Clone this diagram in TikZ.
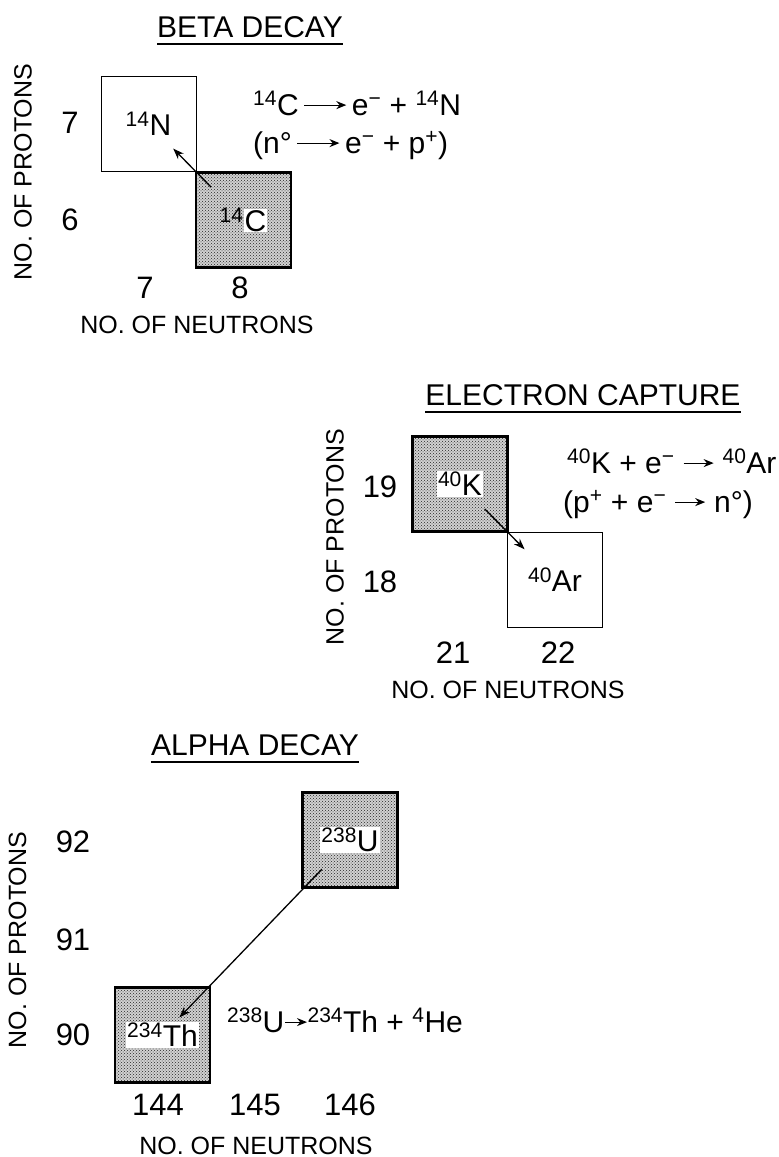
\documentclass[tikz,border=0pt]{standalone}
\usepackage{fontspec}
\setmainfont{Liberation Sans}
\usetikzlibrary{calc,arrows.meta,patterns}
\newcommand\nucl[2]{\textsuperscript{#1}#2}
\newcommand\wbox[1]{{\setlength\fboxsep{1pt}\colorbox{white}{#1}}}
\newcommand\rarr[1]{\tikz[baseline=-0.33em]\draw[-{Stealth[length=10pt,width=8pt]},line width=1.2pt] (0pt,0pt) -- (#1,0pt);}
\begin{document}
\begin{tikzpicture}[x=1pt,y=-1pt,>={Stealth[length=11pt,width=8pt]},
  ttl/.style={font=\fontsize{30}{32}\selectfont,anchor=base,inner sep=0pt},
  axlab/.style={font=\fontsize{25}{27}\selectfont,inner sep=0pt},
  num/.style={font=\fontsize{31}{33}\selectfont,anchor=base,inner sep=0pt},
  eqn/.style={font=\fontsize{30}{32}\selectfont,anchor=base west,inner sep=0pt},
  cell/.style={draw,line width=1pt,minimum size=95pt,inner sep=0pt,
    font=\fontsize{30}{32}\selectfont},
  hot/.style={cell,preaction={fill=black!18},pattern=crosshatch dots,
    pattern color=black!85,line width=2.2pt},
  decay/.style={->,line width=1.3pt}]
  \useasboundingbox (0,0) rectangle (779,1157);

  % beta decay
  \node[ttl] (tbeta) at (250,37) {BETA DECAY};
  \draw[line width=1.2pt] ([yshift=-7pt]tbeta.base west) -- ([yshift=-7pt]tbeta.base east);
  \node[cell] (n14) at (148.5,123.5) {\nucl{14}{N}};
  \node[hot] (c14) at (243.5,220) {\nucl{14}{\wbox{C}}};
  \draw[decay] ($(c14.center)!0.34!(n14.center)$) -- ($(c14.center)!0.74!(n14.center)$);
  \node[eqn] (eqb1) at (253,115)
    {\nucl{14}{C}\,\rarr{42pt}\,e\textsuperscript{−} + \nucl{14}{N}};
  \node[eqn] (eqb2) at (253,153)
    {(n°\,\rarr{42pt}\,e\textsuperscript{−} + p\textsuperscript{+})};
  \node[axlab,rotate=90] (pbeta) at (23,172) {NO. OF PROTONS};
  \node[num] (zb7) at (70,133) {7};
  \node[num] (zb6) at (70,230) {6};
  \node[num] (nb7) at (145,298) {7};
  \node[num] (nb8) at (240,298) {8};
  \node[axlab,anchor=base] (nbeta) at (197,333) {NO. OF NEUTRONS};

  % electron capture
  \node[ttl] (tec) at (583,405) {ELECTRON CAPTURE};
  \draw[line width=1.2pt] ([yshift=-7pt]tec.base west) -- ([yshift=-7pt]tec.base east);
  \node[hot] (k40) at (460,484) {\wbox{\textsuperscript{40}K}};
  \node[cell] (ar40) at (555,580) {\nucl{40}{Ar}};
  \draw[decay] ($(k40.center)!0.26!(ar40.center)$) -- ($(k40.center)!0.68!(ar40.center)$);
  \node[eqn] (eqe1) at (567,473)
    {\nucl{40}{K} + e\textsuperscript{−} \rarr{30pt} \nucl{40}{Ar}};
  \node[eqn] (eqe2) at (563,512)
    {(p\textsuperscript{+} + e\textsuperscript{−} \rarr{30pt} n°)};
  \node[axlab,rotate=90] (pec) at (335,537) {NO. OF PROTONS};
  \node[num] (ze19) at (380,497) {19};
  \node[num] (ze18) at (380,592) {18};
  \node[num] (ne21) at (453,663) {21};
  \node[num] (ne22) at (558,663) {22};
  \node[axlab,anchor=base] (nec) at (508,698) {NO. OF NEUTRONS};

  % alpha decay
  \node[ttl] (talpha) at (255,755) {ALPHA DECAY};
  \draw[line width=1.2pt] ([yshift=-7pt]talpha.base west) -- ([yshift=-7pt]talpha.base east);
  \node[hot] (u238) at (350,840) {\wbox{\textsuperscript{238}U}};
  \node[hot] (th234) at (162.5,1035) {\wbox{\textsuperscript{234}Th}};
  \draw[decay] ($(u238.center)!0.15!(th234.center)$) -- ($(u238.center)!0.91!(th234.center)$);
  \node[eqn] (eqa) at (227,1032)
    {\nucl{238}{U}\rarr{22pt}\nucl{234}{Th} + \nucl{4}{He}};
  \node[axlab,rotate=90] (palpha) at (17.5,940) {NO. OF PROTONS};
  \node[num] (za92) at (73,852) {92};
  \node[num] (za91) at (73,950) {91};
  \node[num] (za90) at (73,1045) {90};
  \node[num] (na144) at (158,1115) {144};
  \node[num] (na145) at (255,1115) {145};
  \node[num] (na146) at (350,1115) {146};
  \node[axlab,anchor=base] (nalpha) at (256,1154) {NO. OF NEUTRONS};
\end{tikzpicture}
\end{document}
